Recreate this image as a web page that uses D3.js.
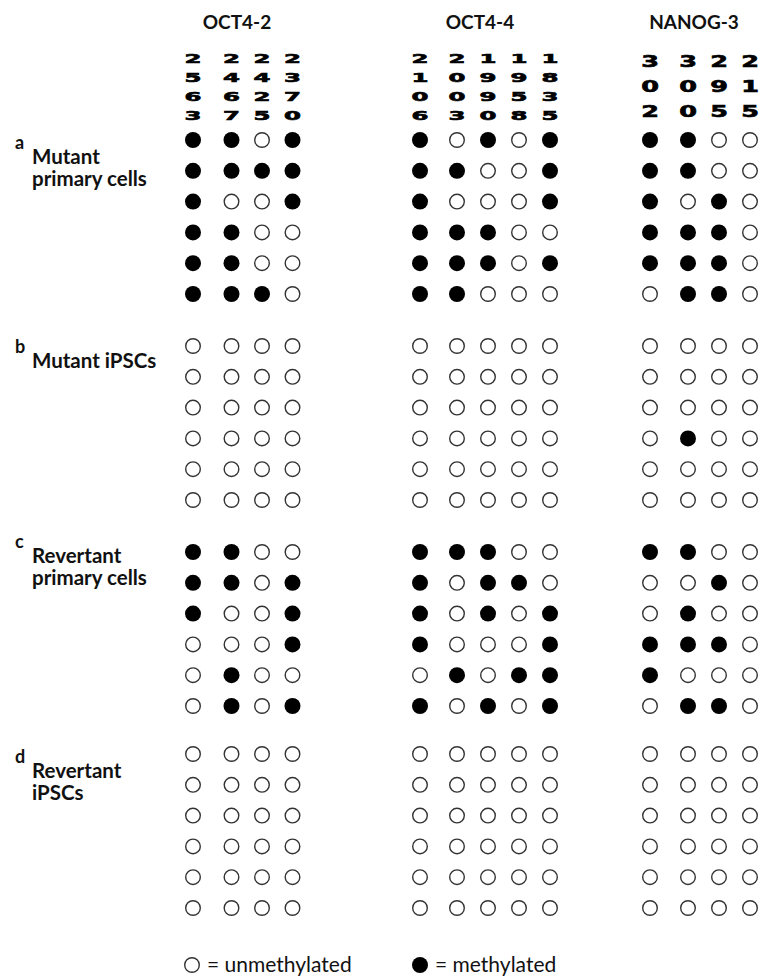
<!DOCTYPE html>
<html>
<head>
<meta charset="utf-8">
<script src="https://cdn.jsdelivr.net/npm/d3@7"></script>
<style>
  html, body { margin: 0; padding: 0; background: #fff; }
  svg { display: block; }
</style>
</head>
<body>
<svg id="chart" width="761" height="980"></svg>
<script>
// CpG sites (bp) for each amplicon, read top-to-bottom as column labels
const genes = ["OCT4-2", "OCT4-4", "NANOG-3"];
const oct42Sites = ["2563", "2467", "2425", "2370"];
const oct44Sites = ["2106", "2003", "1990", "1958", "1835"];
const nanog3Sites = ["302", "300", "295", "215"];

// Panels: letter and label lines
const panels = ["a", "b", "c", "d"];
const panelLabels = [
  ["Mutant", "primary cells"],
  ["Mutant iPSCs"],
  ["Revertant", "primary cells"],
  ["Revertant", "iPSCs"]
];

// Methylation status per clone (1 = methylated, 0 = unmethylated), per panel
const oct42Meth = [
  ["1101", "1111", "1001", "1100", "1100", "1110"],
  ["0000", "0000", "0000", "0000", "0000", "0000"],
  ["1100", "1101", "1001", "0001", "0100", "0101"],
  ["0000", "0000", "0000", "0000", "0000", "0000"]
];
const oct44Meth = [
  ["10101", "11001", "10001", "11100", "11101", "11000"],
  ["00000", "00000", "00000", "00000", "00000", "00000"],
  ["11100", "10110", "10101", "10001", "01011", "10101"],
  ["00000", "00000", "00000", "00000", "00000", "00000"]
];
const nanog3Meth = [
  ["1100", "1100", "1010", "1110", "1110", "0110"],
  ["0000", "0000", "0000", "0100", "0000", "0000"],
  ["1100", "0010", "0100", "1110", "1000", "0110"],
  ["0000", "0000", "0000", "0000", "0000", "0000"]
];

const legendItems = [
  { label: "= unmethylated", methylated: 0 },
  { label: "= methylated", methylated: 1 }
];

const siteLists = [oct42Sites, oct44Sites, nanog3Sites];
const methLists = [oct42Meth, oct44Meth, nanog3Meth];

// ---- layout ----
const svg = d3.select("#chart");
const R = 8;
const labelFont = "Lato, 'Open Sans', sans-serif";
const digitFont = "'DejaVu Sans', sans-serif";

// horizontal: one linear column scale per amplicon; the first column
// is followed by a wider gap
const geneLayout = [
  { start: 193, step: 30.5, firstGap: 8,   header: 237 },
  { start: 420, step: 31,   firstGap: 6,   header: 480 },
  { start: 650, step: 31,   firstGap: 7,   header: 694 }
];
const colScales = geneLayout.map(l =>
  d3.scaleLinear().domain([0, 1]).range([l.start, l.start + l.step]));
const colX = (g, i) =>
  colScales[g](i + (i > 0 ? geneLayout[g].firstGap / geneLayout[g].step : 0));

// vertical: panels stacked, clones evenly spaced within each panel
const panelTop = d3.scaleOrdinal().domain(panels).range([140, 346, 552, 754]);
const rowStep = d3.scaleLinear().domain([0, 1]).range([0, 30.8]);
const labelLayout = [
  { letterY: 149, lineY: 164 },
  { letterY: 353, lineY: 368 },
  { letterY: 548, lineY: 563 },
  { letterY: 763, lineY: 778 }
];

// gene headers
genes.forEach((name, g) => {
  svg.append("text")
    .attr("x", geneLayout[g].header).attr("y", 29)
    .attr("text-anchor", "middle")
    .attr("font-family", labelFont)
    .attr("font-weight", 700)
    .attr("font-size", 19)
    .attr("fill", "#111")
    .text(name);
});

// CpG position labels, one digit per line, stretched wide
const digitRowsY = [
  d3.scaleLinear().domain([0, 3]).range([62.5, 119.5]),
  d3.scaleLinear().domain([0, 3]).range([62.5, 119.5]),
  d3.scaleLinear().domain([0, 2]).range([67, 117])
];
siteLists.forEach((sites, g) => {
  sites.forEach((pos, i) => {
    pos.split("").forEach((ch, k) => {
      svg.append("text")
        .attr("transform", `translate(${colX(g, i)},${digitRowsY[g](k)}) scale(${g === 2 ? 1.7 : 1.95},1)`)
        .attr("text-anchor", "middle")
        .attr("font-family", digitFont)
        .attr("font-weight", 700)
        .attr("font-size", g === 2 ? 15 : 12.5)
        .attr("fill", "#000")
        .attr("stroke", "#000")
        .attr("stroke-width", 0.6)
        .text(ch);
    });
  });
});

// panel labels
panels.forEach((p, pi) => {
  const l = labelLayout[pi];
  svg.append("text")
    .attr("x", 15).attr("y", l.letterY)
    .attr("font-family", labelFont)
    .attr("font-weight", 700)
    .attr("font-size", 18)
    .attr("fill", "#111")
    .text(p);
  panelLabels[pi].forEach((line, li) => {
    svg.append("text")
      .attr("x", 32).attr("y", l.lineY + li * 22)
      .attr("font-family", labelFont)
      .attr("font-weight", 700)
      .attr("font-size", 20.5)
      .attr("fill", "#111")
      .text(line);
  });
});

// one circle per CpG site per clone
methLists.forEach((meth, g) => {
  meth.forEach((rows, pi) => {
    const y0 = panelTop(panels[pi]);
    rows.forEach((row, r) => {
      row.split("").forEach((v, i) => {
        const m = v === "1";
        svg.append("circle")
          .attr("cx", colX(g, i))
          .attr("cy", y0 + rowStep(r))
          .attr("r", m ? R : R - 0.7)
          .attr("fill", m ? "#000" : "#fff")
          .attr("stroke", m ? "none" : "#333")
          .attr("stroke-width", 1.4);
      });
    });
  });
});

// legend
const legendX = [192, 420];
legendItems.forEach((item, i) => {
  const m = item.methylated === 1;
  svg.append("circle")
    .attr("cx", legendX[i]).attr("cy", 965)
    .attr("r", m ? R : R - 0.7)
    .attr("fill", m ? "#000" : "#fff")
    .attr("stroke", m ? "none" : "#333")
    .attr("stroke-width", 1.4);
  svg.append("text")
    .attr("x", legendX[i] + 15).attr("y", 972)
    .attr("font-family", labelFont)
    .attr("font-size", 21)
    .attr("fill", "#111")
    .text(item.label);
});
</script>
</body>
</html>
